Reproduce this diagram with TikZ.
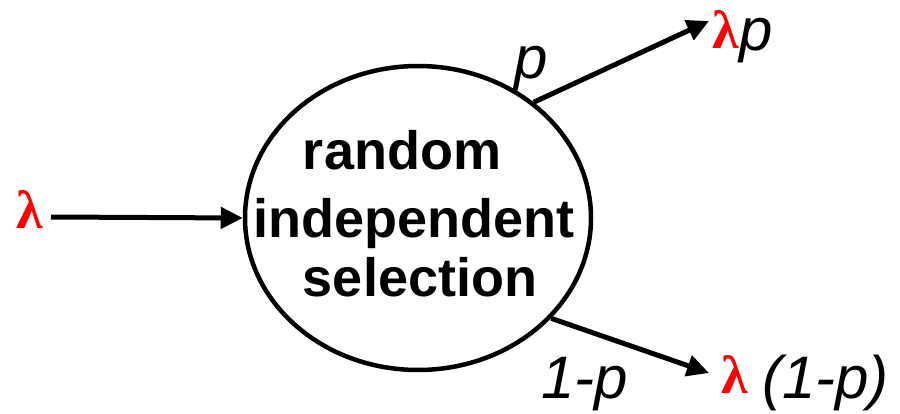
\documentclass[tikz,border=0pt]{standalone}
\usepackage{fontspec}
\setmainfont{Liberation Sans}
\newfontfamily\lamfont{Liberation Serif}
\usetikzlibrary{arrows.meta,shapes.geometric}
\definecolor{lamred}{RGB}{255,0,0}
\tikzset{
  conn/.style={line width=5pt,-{Triangle[length=22pt,width=21pt]}},
  boldtxt/.style={inner sep=0pt,anchor=base,font=\fontsize{54}{60}\selectfont\bfseries},
  itxt/.style={inner sep=0pt,anchor=base west,font=\fontsize{60}{66}\selectfont\itshape},
  lam/.style={inner sep=0pt,anchor=base west,text=lamred,font=\lamfont\fontsize{54}{60}\selectfont\bfseries}
}
\begin{document}
\begin{tikzpicture}[x=1pt,y=-1pt]
\useasboundingbox (0,0) rectangle (900,414);
\node[draw,line width=4.5pt,ellipse,minimum width=346pt,minimum height=304pt,inner sep=0pt] (sel) at (418,218) {};
\node[boldtxt] (t1) at (402,170) {random};
\node[boldtxt] (t2) at (414,238) {independent};
\node[boldtxt] (t3) at (420,297) {selection};
% input
\node[lam] (lin) at (16,229) {λ};
\coordinate (in) at (51,217);
\draw[conn] (in) -- (sel.west);
% outputs
\coordinate (o1) at (709,21);
\coordinate (o2) at (709,373);
\draw[conn] (sel.45) -- (o1);
\draw[conn] (sel.-37) -- (o2);
\node[itxt] (lp) at (514,79) {p};
\node[itxt] (l1p) at (541,398) {1-p};
\node[lam] (lam1) at (712,49) {λ};
\node[itxt] (out1) at (739,51) {p};
\node[lam] (lam2) at (721,393) {λ};
\node[itxt] (out2) at (762,398) {(1-p)};
\end{tikzpicture}
\end{document}
